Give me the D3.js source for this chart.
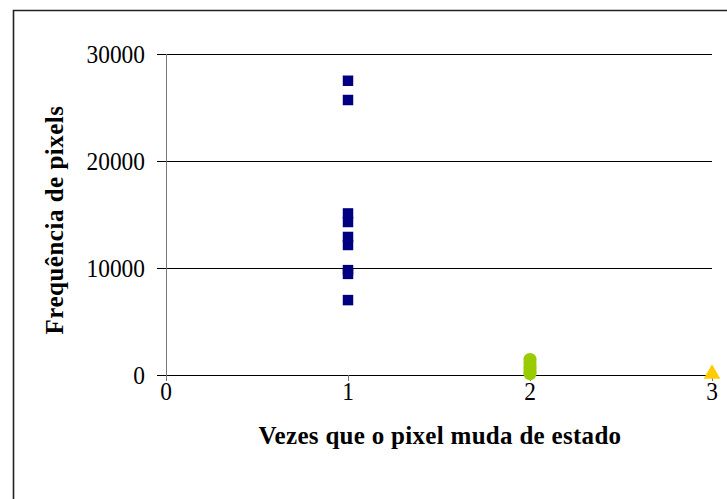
<!DOCTYPE html>
<html>
<head>
<meta charset="utf-8">
<script src="https://cdn.jsdelivr.net/npm/d3@7"></script>
<style>
  html, body { margin: 0; padding: 0; background: #fff; }
  svg { display: block; }
</style>
</head>
<body>
<svg id="chart" width="727" height="499"></svg>
<script>
// Pixel-change frequency: how many pixels switch state 1, 2 or 3 times
const xTicks = [0, 1, 2, 3];
const yTicks = [0, 10000, 20000, 30000];

const onceValues  = [27500, 25700, 15100, 14300, 12900, 12150, 9800, 9450, 7000];
const twiceValues = [1450, 1150, 850, 550, 300, 120];
const thriceValues = [100];

const series = [
  { x: 1, values: onceValues,  shape: "square",   color: "#000080" },
  { x: 2, values: twiceValues, shape: "circle",   color: "#99CC00" },
  { x: 3, values: thriceValues, shape: "triangle", color: "#FFCC00" }
];

const xTitle = "Vezes que o pixel muda de estado";
const yTitle = "Frequência de pixels";

const svg = d3.select("#chart");
const font = "'Liberation Serif', 'Times New Roman', serif";

// outer chart frame (left and top edges visible)
svg.append("path")
  .attr("d", "M13.5,499 V10.5 H727")
  .attr("fill", "none").attr("stroke", "#222").attr("stroke-width", 1.6);

const x = d3.scaleLinear().domain([0, 3]).range([166, 712]);
const y = d3.scaleLinear().domain([0, 30000]).range([375, 54]);

// horizontal gridlines with left tick stubs
svg.append("g").selectAll("line").data(yTicks).join("line")
  .attr("x1", 157).attr("x2", x(3))
  .attr("y1", d => Math.round(y(d)) + 0.5).attr("y2", d => Math.round(y(d)) + 0.5)
  .attr("stroke", "#000").attr("stroke-width", 1);

// vertical axis line
svg.append("line")
  .attr("x1", x(0) + 0.5).attr("x2", x(0) + 0.5)
  .attr("y1", y(30000)).attr("y2", y(0) + 6)
  .attr("stroke", "#777").attr("stroke-width", 1);

// x tick marks below the baseline
svg.append("g").selectAll("line").data(xTicks).join("line")
  .attr("x1", d => Math.round(x(d)) + 0.5).attr("x2", d => Math.round(x(d)) + 0.5)
  .attr("y1", y(0)).attr("y2", y(0) + 6)
  .attr("stroke", "#777").attr("stroke-width", 1);

// tick labels use a slightly condensed serif face
const tickFontSize = 26;
const squeeze = 0.9;

// y tick labels
svg.append("g").selectAll("text").data(yTicks).join("text")
  .attr("transform", d => `translate(145,${y(d)}) scale(${squeeze},1)`)
  .attr("dy", "0.35em")
  .attr("text-anchor", "end")
  .attr("font-family", font).attr("font-size", tickFontSize)
  .text(d => d);

// x tick labels
svg.append("g").selectAll("text").data(xTicks).join("text")
  .attr("transform", d => `translate(${x(d)},400) scale(${squeeze},1)`)
  .attr("text-anchor", "middle")
  .attr("font-family", font).attr("font-size", tickFontSize)
  .text(d => d);

// axis titles
svg.append("text")
  .attr("x", 440).attr("y", 444)
  .attr("text-anchor", "middle")
  .attr("font-family", font).attr("font-size", 25).attr("font-weight", "bold")
  .attr("letter-spacing", 0.3)
  .text(xTitle);

svg.append("text")
  .attr("transform", "translate(63,220) rotate(-90)")
  .attr("text-anchor", "middle")
  .attr("font-family", font).attr("font-size", 25).attr("font-weight", "bold")
  .attr("letter-spacing", 0.5)
  .text(yTitle);

// markers
const symbolType = { square: d3.symbolSquare, circle: d3.symbolCircle, triangle: d3.symbolTriangle };
const symbolSize = { square: 110, circle: 135, triangle: 120 };

series.forEach(s => {
  const sym = d3.symbol().type(symbolType[s.shape]).size(symbolSize[s.shape]);
  svg.append("g").selectAll("path").data(s.values).join("path")
    .attr("transform", v => `translate(${x(s.x)},${y(v)})`)
    .attr("d", sym)
    .attr("fill", s.color);
});
</script>
</body>
</html>
